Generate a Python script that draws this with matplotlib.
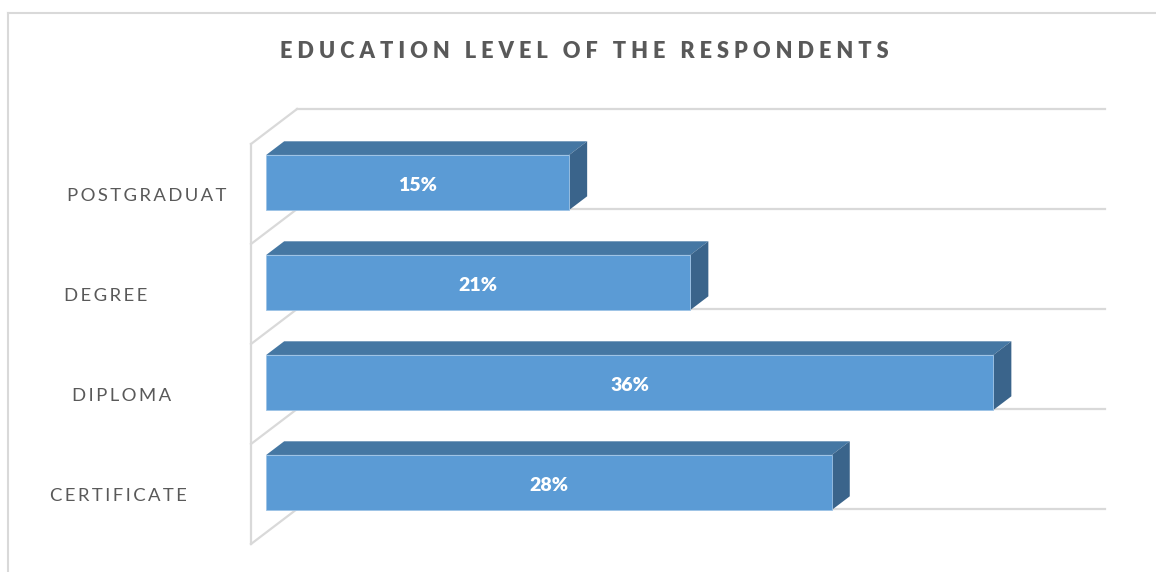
import matplotlib
matplotlib.use("Agg")
import matplotlib.pyplot as plt
from matplotlib.patches import Polygon
from matplotlib import transforms

# data
categories = ["CERTIFICATE", "DIPLOMA", "DEGREE", "POSTGRADUAT"]
shares = [28, 36, 21, 15]
value_labels = ["28%", "36%", "21%", "15%"]

FRONT = "#5B9BD5"
TOP = "#4577A3"
SIDE = "#3A648B"
GRID = "#D9D9D9"
TEXT = "#595959"
FONT = ["Lato", "DejaVu Sans"]

W, H, DPI = 1156, 572, 100


def spaced(s, gap=" ", word="   "):
    # fake letter spacing
    return word.join(gap.join(w) for w in s.split(" "))


fig = plt.figure(figsize=(W / DPI, H / DPI), dpi=DPI)
# axes = front plane of the floor: value 0..40, categories -0.5..3.5
ax = fig.add_axes([251 / W, (H - 544) / H, 808 / W, 400 / H])
ax.set_xlim(0, 40)
ax.set_ylim(-0.5, 3.5)
ax.axis("off")

# depth of the 3d box in data units
dx, dy = 2.28, 0.35
d_front, d_back = 0.33, 0.72
bar_h = 0.55


def proj(v, c, d):
    return (v + d * dx, c + d * dy)


n = len(categories)
bounds = [k - 0.5 for k in range(n + 1)]

# back wall gridlines + floor edges
for b in bounds:
    x0, y0 = proj(0, b, 1)
    x1, y1 = proj(40, b, 1)
    ax.plot([x0, x1], [y0, y1], color=GRID, lw=1.6, clip_on=False, zorder=1)
    ax.plot([0, x0], [b, y0], color=GRID, lw=1.6, clip_on=False, zorder=1)
ax.plot([0, 0], [bounds[0], bounds[-1]], color=GRID, lw=1.6, clip_on=False, zorder=1)

# bars
for k, v in enumerate(shares):
    lo, hi = k - bar_h / 2, k + bar_h / 2
    fx, fy = proj(0, k, d_front)
    ax.barh(fy, v, height=bar_h, left=fx, color=FRONT, edgecolor="#9DC3E6",
            lw=0.6, zorder=3)
    top = [proj(0, hi, d_front), proj(v, hi, d_front), proj(v, hi, d_back), proj(0, hi, d_back)]
    side = [proj(v, lo, d_front), proj(v, hi, d_front), proj(v, hi, d_back), proj(v, lo, d_back)]
    ax.add_patch(Polygon(top, closed=True, facecolor=TOP, edgecolor="none", zorder=2, clip_on=False))
    ax.add_patch(Polygon(side, closed=True, facecolor=SIDE, edgecolor="none", zorder=2, clip_on=False))
    ax.text(fx + v / 2, fy - 0.03, value_labels[k], ha="center", va="center", color="white",
            fontsize=14, fontweight="heavy", family=FONT, zorder=4)

# category labels
label_x = [118, 122, 106, 147]
tr = transforms.blended_transform_factory(fig.transFigure, ax.transData)
for k, name in enumerate(categories):
    ax.text(label_x[k] / W, k - 0.02, spaced(name, gap="\u2009"), transform=tr,
            ha="center", va="center", color=TEXT, fontsize=13.3, family=FONT, clip_on=False)

fig.text(584 / W, 1 - 51 / H, spaced("EDUCATION LEVEL OF THE RESPONDENTS"),
         ha="center", va="center", color=TEXT, fontsize=15.7, fontweight="heavy", family=FONT)

# chart border (only top/left are inside the picture)
fig.add_artist(plt.Line2D([7.5 / W, 7.5 / W], [0, 1 - 12.5 / H], color=GRID, lw=1.5))
fig.add_artist(plt.Line2D([7.5 / W, 1], [1 - 12.5 / H, 1 - 12.5 / H], color=GRID, lw=1.5))

fig.savefig("out.png", dpi=DPI)
